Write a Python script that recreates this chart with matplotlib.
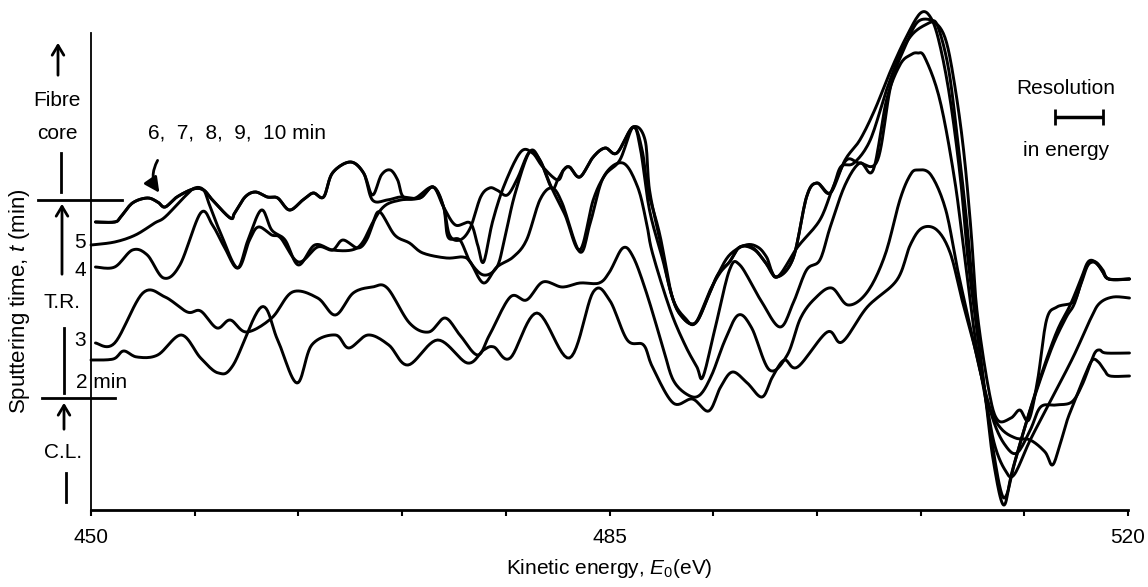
import numpy as np
import matplotlib.pyplot as plt
from matplotlib.lines import Line2D
from matplotlib.patches import FancyArrowPatch

plt.rcParams['font.family'] = ['Liberation Sans', 'DejaVu Sans']
plt.rcParams['mathtext.fontset'] = 'custom'
plt.rcParams['mathtext.rm'] = 'Liberation Sans'
plt.rcParams['mathtext.it'] = 'Liberation Sans:italic'

# Auger spectra, (kinetic energy eV, intensity arb. units), offset per sputtering time
spec_2min = [(450.0, 15.0), (451.5, 15.1), (452.2, 15.9), (453.1, 15.3), (454.5, 15.5), (456.1, 17.5),
             (457.4, 15.2), (458.6, 13.7), (459.6, 14.5), (461.5, 20.3), (462.6, 17.0), (463.9, 12.7),
             (464.9, 16.5), (466.5, 17.5), (467.4, 16.2), (468.7, 17.5), (470.1, 16.5), (471.4, 14.5),
             (473.4, 17.0), (475.4, 14.7), (476.5, 16.0), (477.2, 16.3), (478.3, 15.2), (480.1, 19.7),
             (482.3, 15.2), (483.9, 21.8), (485.0, 21.0), (486.2, 17.0), (487.3, 16.5), (487.9, 14.3),
             (489.3, 10.7), (490.6, 11.1), (491.7, 9.9), (492.5, 12.3), (493.3, 13.8), (494.3, 12.7),
             (495.3, 11.3), (496.0, 13.3), (496.8, 15.0), (497.7, 14.3), (499.7, 17.8), (500.7, 16.8),
             (502.4, 20.3), (504.4, 23.0), (505.3, 26.5), (506.1, 28.2), (507.1, 28.0), (508.0, 25.7),
             (508.8, 21.0), (509.7, 16.0), (510.6, 10.5), (511.4, 8.2), (512.4, 7.2), (513.4, 7.0),
             (514.4, 5.8), (514.9, 4.5), (515.4, 6.5), (515.9, 9.0), (516.3, 10.5), (517.1, 13.5),
             (517.6, 15.0), (518.0, 14.8), (518.4, 14.0), (518.8, 13.4), (520.1, 13.4)]

spec_3min = [(450.3, 16.7), (451.6, 16.7), (453.5, 21.7), (455.0, 21.3), (456.5, 19.8), (457.4, 19.9),
             (458.5, 18.2), (459.4, 19.0), (460.5, 17.8), (462.2, 19.2), (463.6, 21.8), (465.3, 21.2),
             (466.5, 19.5), (467.7, 21.7), (469.0, 22.3), (470.0, 22.2), (471.5, 18.7), (472.8, 17.8),
             (473.9, 19.2), (474.9, 17.5), (476.1, 15.5), (476.9, 17.5), (478.3, 21.3), (479.4, 21.0),
             (480.5, 22.8), (481.8, 22.3), (483.0, 22.7), (484.3, 22.7), (485.0, 23.8), (485.9, 26.2),
             (486.6, 25.3), (487.5, 21.7), (488.6, 16.3), (489.3, 13.0), (490.3, 11.5), (491.1, 11.5),
             (491.9, 13.5), (492.8, 17.0), (493.7, 19.5), (494.6, 18.2), (495.8, 14.0), (497.0, 15.5),
             (497.9, 19.2), (498.9, 21.2), (500.0, 22.2), (501.1, 20.5), (502.4, 21.8), (503.6, 25.5),
             (504.6, 31.0), (505.3, 33.5), (505.8, 34.0), (506.7, 33.5), (507.7, 30.0), (508.5, 24.0),
             (509.4, 18.0), (510.0, 14.0), (510.9, 9.0), (511.7, 6.5), (512.5, 5.7), (513.4, 8.0),
             (514.1, 10.3), (515.1, 10.5), (516.2, 10.8), (516.9, 12.5), (517.5, 14.8), (517.8, 15.8),
             (518.1, 16.0), (518.5, 15.7), (520.1, 15.7)]

spec_4min = [(450.3, 24.3), (451.6, 24.3), (452.8, 26.0), (453.8, 25.5), (454.9, 23.2), (456.0, 24.5),
             (457.4, 29.7), (458.2, 28.5), (459.0, 26.3), (459.9, 24.2), (460.6, 27.0), (461.5, 30.0),
             (462.2, 28.0), (463.1, 27.0), (464.0, 24.5), (465.1, 26.5), (466.3, 26.0), (467.6, 26.0),
             (468.3, 26.7), (469.0, 28.7), (469.5, 29.8), (470.5, 27.5), (471.5, 26.7), (472.4, 25.7),
             (474.0, 25.2), (475.1, 25.3), (475.6, 24.8), (476.5, 22.7), (477.4, 24.3), (478.5, 25.3),
             (479.4, 27.0), (480.3, 31.0), (481.1, 32.2), (481.8, 30.7), (483.0, 25.8), (483.7, 28.7),
             (484.6, 33.3), (485.9, 34.7), (486.9, 32.3), (487.5, 28.7), (487.9, 25.7), (489.1, 20.0),
             (490.1, 16.5), (490.9, 14.3), (491.3, 13.3), (492.1, 18.0), (493.1, 24.0), (493.8, 24.5),
             (495.2, 21.0), (496.5, 18.3), (497.4, 20.7), (498.3, 24.0), (499.2, 25.0), (499.9, 28.3),
             (500.9, 32.5), (501.9, 34.7), (502.8, 34.0), (503.7, 41.0), (504.6, 44.5), (505.3, 45.5),
             (505.8, 45.7), (506.3, 45.2), (507.3, 41.0), (508.3, 33.0), (509.0, 25.0), (509.7, 17.0),
             (510.4, 11.0), (511.0, 6.5), (511.7, 4.0), (512.3, 3.5), (513.4, 7.0), (514.8, 11.0),
             (516.3, 15.3), (517.5, 19.2), (518.1, 20.7), (519.0, 21.3), (520.1, 21.2)]

spec_5min = [(450.0, 26.5), (451.6, 26.8), (453.0, 27.5), (454.3, 28.7), (455.0, 29.3), (456.3, 31.3),
             (457.0, 32.2), (457.6, 32.0), (458.0, 30.5), (458.8, 27.5), (459.9, 24.2), (460.7, 27.0),
             (461.3, 28.3), (462.2, 27.5), (462.8, 27.2), (464.0, 24.8), (465.3, 26.3), (466.3, 26.0),
             (467.0, 27.0), (468.0, 26.2), (468.6, 27.0), (469.2, 29.2), (469.9, 30.5), (470.9, 31.0),
             (471.9, 31.2), (473.1, 32.3), (473.8, 30.3), (474.1, 27.3), (474.9, 27.0), (475.6, 24.8),
             (476.5, 23.5), (477.4, 24.3), (477.9, 27.0), (478.6, 31.5), (479.6, 35.8), (480.3, 35.0),
             (481.1, 32.2), (482.0, 29.5), (483.0, 26.0), (483.9, 31.0), (484.7, 33.5), (485.7, 35.0),
             (486.6, 38.3), (487.1, 36.0), (487.7, 30.0), (488.6, 25.0), (489.3, 21.0), (490.1, 19.2),
             (490.8, 18.7), (491.8, 22.0), (492.5, 23.8), (493.1, 24.8), (493.8, 26.3), (494.7, 26.2),
             (495.5, 24.8), (496.3, 23.3), (497.4, 25.2), (498.3, 31.3), (499.0, 32.7), (499.9, 31.7),
             (500.6, 34.3), (501.5, 34.7), (502.6, 37.0), (503.7, 42.0), (504.6, 45.5), (505.4, 47.5),
             (506.3, 48.5), (507.0, 48.7), (507.7, 47.0), (508.3, 42.5), (508.9, 36.0), (509.4, 28.0),
             (509.8, 20.0), (510.6, 12.0), (511.2, 9.0), (512.1, 9.2), (512.7, 10.0), (513.3, 9.0),
             (513.9, 13.0), (514.5, 19.0), (515.2, 20.3), (516.3, 20.8), (516.8, 22.5), (517.3, 24.5),
             (517.8, 24.8), (518.3, 24.0), (518.7, 23.1), (520.1, 23.1)]

# 6-10 min spectra lie almost on top of each other
spec_6_10a = [(450.3, 28.8), (451.6, 28.8), (452.0, 29.3), (452.8, 30.7), (453.8, 31.2), (454.5, 30.8),
              (455.0, 30.3), (455.8, 31.3), (456.9, 32.1), (457.6, 32.0), (458.2, 31.0), (459.4, 29.2),
              (459.7, 29.7), (460.4, 31.3), (461.1, 31.8), (461.9, 31.3), (462.6, 31.2), (463.4, 30.0),
              (464.3, 31.0), (465.0, 31.7), (465.7, 31.3), (466.3, 33.7), (467.5, 34.8), (468.4, 33.7),
              (469.0, 31.0), (470.0, 31.0), (470.9, 31.3), (472.2, 31.2), (473.1, 32.3), (473.8, 30.3),
              (474.6, 28.5), (475.6, 28.7), (476.1, 26.5), (476.5, 24.8), (477.1, 28.8), (477.9, 32.5),
              (479.0, 35.8), (479.8, 35.7), (480.5, 34.3), (481.5, 33.0), (481.9, 34.0), (482.3, 34.3),
              (483.0, 33.3), (483.9, 35.3), (484.7, 36.2), (485.5, 35.7), (486.6, 38.3), (487.2, 36.0),
              (487.6, 32.0), (488.4, 27.5), (489.2, 21.5), (489.9, 19.3), (490.8, 18.7), (491.7, 21.5),
              (492.3, 23.5), (493.1, 24.8), (493.8, 26.3), (494.8, 26.0), (495.8, 24.2), (496.3, 23.3),
              (497.4, 25.2), (498.3, 31.3), (499.0, 32.7), (499.9, 31.7), (500.9, 35.0), (501.9, 37.0),
              (502.9, 40.0), (504.0, 44.0), (505.0, 47.2), (506.0, 49.7), (506.7, 49.2), (507.3, 46.5),
              (508.0, 41.0), (508.7, 33.0), (509.2, 25.0), (509.8, 18.0), (510.4, 11.0), (510.9, 5.0),
              (511.6, 0.5), (512.2, 4.0), (513.4, 10.0), (514.8, 16.0), (515.8, 19.2), (516.4, 20.7),
              (517.1, 24.0), (517.6, 24.8), (518.1, 24.3), (518.7, 23.1), (520.1, 23.1)]

spec_6_10b = [(450.3, 28.8), (451.6, 28.8), (452.0, 29.3), (452.8, 30.7), (453.8, 31.2), (454.5, 30.8),
              (455.0, 30.3), (455.8, 31.3), (456.9, 32.1), (457.6, 32.0), (458.2, 31.0), (459.4, 29.2),
              (459.7, 29.7), (460.4, 31.3), (461.1, 31.8), (461.9, 31.3), (462.6, 31.2), (463.4, 30.0),
              (464.3, 31.0), (465.0, 31.7), (465.7, 31.3), (466.3, 33.7), (467.5, 34.8), (468.4, 33.7),
              (469.0, 31.5), (469.6, 33.5), (470.2, 34.0), (470.7, 33.0), (471.1, 31.3), (472.2, 31.2),
              (473.1, 32.3), (473.8, 30.3), (474.2, 27.5), (474.9, 27.0), (475.6, 28.2), (476.3, 31.3),
              (476.9, 32.2), (477.4, 32.0), (478.1, 31.5), (478.8, 33.2), (479.6, 35.8), (480.3, 35.0),
              (481.1, 32.2), (481.5, 33.0), (481.9, 34.0), (482.3, 34.3), (483.0, 33.3), (483.9, 35.3),
              (484.7, 36.2), (485.5, 35.7), (486.6, 38.3), (487.4, 37.0), (487.7, 32.0), (488.4, 27.0),
              (489.1, 22.0), (489.8, 19.5), (490.8, 18.7), (491.7, 21.5), (492.3, 23.5), (493.1, 25.5),
              (494.2, 26.5), (495.0, 26.3), (495.6, 25.3), (496.3, 23.3), (497.7, 26.3), (499.2, 29.0),
              (500.1, 32.3), (501.0, 35.0), (501.9, 34.7), (503.1, 35.0), (504.0, 42.5), (505.0, 46.5),
              (505.8, 48.8), (506.7, 49.0), (507.2, 48.2), (507.9, 44.0), (508.5, 37.0), (509.1, 29.0),
              (509.6, 21.0), (510.2, 13.5), (510.8, 7.0), (511.4, 2.0), (511.8, 1.5), (512.4, 5.0),
              (513.7, 11.5), (515.1, 17.5), (516.1, 20.5), (516.8, 23.0), (517.3, 24.8), (517.8, 24.8),
              (518.3, 23.8), (518.7, 23.1), (520.1, 23.1)]

spectra = [spec_2min, spec_3min, spec_4min, spec_5min, spec_6_10a, spec_6_10b]

energy_ticks = np.arange(450, 521, 7)
energy_labels = {450: '450', 485: '485', 520: '520'}
resolution_ev = 3.2       # instrument resolution bar width
resolution_at = (516.7, 39.3)

W, H = 1148, 587


def fx(px):
    return px / W


def fy(py):
    return 1 - py / H


def smooth(pts, n=12):
    # Catmull-Rom through the read-off points so the traces look hand drawn
    p = np.asarray(pts, float)
    p = np.vstack([p[0], p, p[-1]])
    t = np.linspace(0, 1, n, endpoint=False)[:, None]
    out = []
    for i in range(1, len(p) - 2):
        p0, p1, p2, p3 = p[i - 1], p[i], p[i + 1], p[i + 2]
        seg = 0.5 * (2 * p1 + (-p0 + p2) * t + (2 * p0 - 5 * p1 + 4 * p2 - p3) * t ** 2
                     + (-p0 + 3 * p1 - 3 * p2 + p3) * t ** 3)
        out.append(seg)
    out.append(p[-2][None])
    return np.vstack(out)


fig = plt.figure(figsize=(W / 100, H / 100), dpi=100)
ax = fig.add_axes([fx(91), 77 / H, 1037 / W, 477 / H])

for s in spectra:
    xy = smooth(s)
    ax.plot(xy[:, 0], xy[:, 1], color='black', lw=2.1, clip_on=False, solid_capstyle='round')

ax.set_xlim(450, 520)
ax.set_ylim(0, 47.7)
ax.spines['top'].set_visible(False)
ax.spines['right'].set_visible(False)
ax.spines['left'].set_linewidth(1.3)
ax.spines['bottom'].set_linewidth(2.0)
ax.set_yticks([])
ax.set_xticks(energy_ticks)
ax.set_xticklabels([energy_labels.get(int(e), '') for e in energy_ticks])
ax.tick_params(axis='x', direction='out', length=4, width=1.5, pad=9, labelsize=15)
ax.set_xlabel(r'Kinetic energy, $E_0$(eV)', fontsize=15, labelpad=7)

# resolution marker
ax.errorbar(resolution_at[0], resolution_at[1], xerr=resolution_ev / 2, fmt='none',
            ecolor='black', elinewidth=2.5, capsize=5.5, capthick=2, clip_on=False)
fig.text(fx(1066), fy(89), 'Resolution', ha='center', va='center', fontsize=15)
fig.text(fx(1066), fy(150), 'in energy', ha='center', va='center', fontsize=15)

# sputtering-time scale on the left
fig.text(fx(20), fy(301), r'Sputtering time, $t$ (min)', rotation=90,
         ha='center', va='center', fontsize=16)
fig.text(fx(57), fy(100), 'Fibre', ha='center', va='center', fontsize=15)
fig.text(fx(57), fy(133), 'core', ha='center', va='center', fontsize=15)
fig.text(fx(62), fy(302), 'T.R.', ha='center', va='center', fontsize=15)
fig.text(fx(63), fy(453), 'C.L.', ha='center', va='center', fontsize=15)
for lab, py in [('5', 243), ('4', 270), ('3', 341)]:
    fig.text(fx(86), fy(py), lab, ha='right', va='center', fontsize=15)
fig.text(fx(76), fy(382), '2 min', ha='left', va='center', fontsize=15)
fig.text(fx(148), fy(133), '6,  7,  8,  9,  10 min', ha='left', va='center', fontsize=15)

segments = [((38, 200), (122, 200)), ((42, 398), (115, 398)),
            ((61, 153), (61, 192)), ((64, 328), (64, 393)), ((66, 473), (66, 502))]
for (x0, y0), (x1, y1) in segments:
    fig.add_artist(Line2D([fx(x0), fx(x1)], [fy(y0), fy(y1)], color='black', lw=2.0))

for x, y0, y1 in [(58, 78, 40), (62, 277, 201), (64, 432, 400)]:
    fig.add_artist(FancyArrowPatch((fx(x), fy(y0)), (fx(x), fy(y1)), transform=fig.transFigure,
                                   arrowstyle='->,head_length=0.5,head_width=0.3',
                                   mutation_scale=14, color='black', lw=2.0))

fig.add_artist(FancyArrowPatch((fx(159), fy(158)), (fx(161), fy(195)), transform=fig.transFigure,
                               connectionstyle='arc3,rad=0.35',
                               arrowstyle='-|>,head_length=0.6,head_width=0.3',
                               mutation_scale=15, color='black', lw=2.0))

fig.savefig('out.png', dpi=100)
